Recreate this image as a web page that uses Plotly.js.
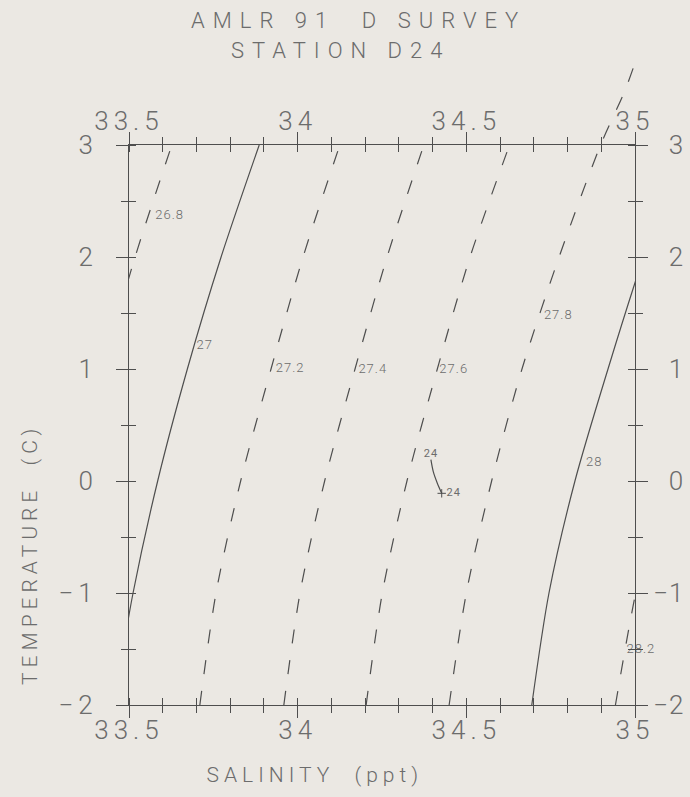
<!DOCTYPE html>
<html><head><meta charset="utf-8">
<script src="https://cdn.plot.ly/plotly-3.0.1.min.js"></script>
<style>
html,body{margin:0;padding:0;background:#ebe8e3;}
#chart{width:690px;height:797px;}
.xtick text,.x2tick text,.ytick text{letter-spacing:5px;}
.y2tick text{letter-spacing:1px;}
.annotation-text{letter-spacing:8px;}
g.annotation[data-index="2"] text, g.annotation[data-index="3"] text{letter-spacing:5px;}
.textpoint text{letter-spacing:1px;}
</style></head><body><div id="chart"></div>
<script>
// ---- data ----
const tempLevels = [-2, -1, 0, 1, 2, 3];
const sigma268 = [33.212, 33.260, 33.333, 33.423, 33.518, 33.627];
const sigma270 = [33.455, 33.512, 33.585, 33.673, 33.773, 33.886];
const sigma272 = [33.710, 33.758, 33.831, 33.921, 34.016, 34.125];
const sigma274 = [33.959, 34.007, 34.080, 34.170, 34.265, 34.374];
const sigma276 = [34.203, 34.251, 34.324, 34.414, 34.511, 34.628];
const tempLevels278 = [-2, -1, 0, 1, 2, 3, 3.5, 4];
const sigma278 = [34.449, 34.500, 34.575, 34.665, 34.775, 34.898, 34.972, 35.030];
const sigma280 = [34.694, 34.745, 34.822, 34.920, 35.025, 35.140];
const sigma282 = [34.942, 35.002, 35.080, 35.180, 35.290, 35.410];
const isoNames = ['26.8', '27', '27.2', '27.4', '27.6', '27.8', '28', '28.2'];
const isoSolid = [false, true, false, false, false, false, true, false];
const labelSal  = [33.578, 33.700, 33.935, 34.180, 34.420, 34.730, 34.855, 34.975];
const labelTemp = [2.366, 1.205, 1.006, 0.990, 0.990, 1.473, 0.161, -1.510];
const stationSal  = [34.395, 34.402, 34.414, 34.427];
const stationTemp = [0.190, 0.083, -0.020, -0.110];
const stationName = '24';
const titleLines = ['AMLR 91\u00a0 D SURVEY', 'STATION D24'];
const xTitle = 'SALINITY\u00a0 (ppt)';
const yTitle = 'TEMPERATURE\u00a0 (C)';
const salTicks = [33.5, 34, 34.5, 35];
const tempTicks = [3, 2, 1, 0, -1, -2];

// ---- styling ----
const LINE = '#4e4e4e', TXT = '#6c6c6c', BG = '#ebe8e3';
const FONT = 'Roboto, "Noto Sans", "DejaVu Sans", sans-serif';
const DASH = '14px,17px';

const isoSeries = [
  [sigma268, tempLevels], [sigma270, tempLevels], [sigma272, tempLevels],
  [sigma274, tempLevels], [sigma276, tempLevels], [sigma278, tempLevels278],
  [sigma280, tempLevels], [sigma282, tempLevels]
];

const traces = [];
isoSeries.forEach((p, i) => {
  traces.push({type: 'scatter', mode: 'lines', x: p[0], y: p[1], xaxis: 'x', yaxis: 'y',
    line: {color: LINE, width: 1.2, dash: isoSolid[i] ? 'solid' : DASH, shape: 'spline', smoothing: 0.8},
    hoverinfo: 'skip', showlegend: false});
});
// continuation of the 27.8 line above the frame (as on the reference plot)
traces.push({type: 'scatter', mode: 'lines', x: sigma278, y: tempLevels278, xaxis: 'x5', yaxis: 'y5',
  line: {color: LINE, width: 1.2, dash: DASH, shape: 'spline', smoothing: 0.8}, hoverinfo: 'skip', showlegend: false});
// isopycnal labels
traces.push({type: 'scatter', mode: 'text', x: labelSal, y: labelTemp, text: isoNames,
  textposition: 'middle right', textfont: {family: FONT, size: 13, color: TXT, weight: 300},
  cliponaxis: false, hoverinfo: 'skip', showlegend: false});
// station profile
traces.push({type: 'scatter', mode: 'lines', x: stationSal, y: stationTemp,
  line: {color: LINE, width: 1.2, shape: 'spline', smoothing: 0.8}, hoverinfo: 'skip', showlegend: false});
traces.push({type: 'scatter', mode: 'text', x: [stationSal[0]], y: [stationTemp[0]], text: [stationName],
  textposition: 'top center', textfont: {family: FONT, size: 11, color: TXT},
  hoverinfo: 'skip', showlegend: false});
const nS = stationSal.length - 1;
traces.push({type: 'scatter', mode: 'markers+text', x: [stationSal[nS]], y: [stationTemp[nS]], text: [stationName],
  textposition: 'middle right', textfont: {family: FONT, size: 11, color: TXT},
  marker: {symbol: 'cross-thin-open', size: 6, color: LINE, line: {color: LINE, width: 1}},
  hoverinfo: 'skip', showlegend: false});
// empty traces so that the extra axes are created
[['x2','y2'],['x3','y3'],['x4','y4']].forEach(a => traces.push({type:'scatter', x:[], y:[], xaxis:a[0], yaxis:a[1], showlegend:false, hoverinfo:'skip'}));

const minus = v => v < 0 ? '\u2212' + (-v) : String(v);
const tickFont = {family: FONT, size: 26, color: TXT, weight: 300};
const common = {showgrid: false, zeroline: false, showline: true, linecolor: LINE, linewidth: 1,
  tickcolor: LINE, tickwidth: 1, fixedrange: true};
const SR = [33.5, 35], TR = [-2, 3];

const W = 690, H = 797, L = 129, R = 635, TOP = 40, PT = 145, PB = 705;
const plotH = PB - TOP;
const mainTop = (PB - PT) / plotH;
const extTop = 3 + (PT - TOP) / ((PB - PT) / 5);
const px = v => (v - L) / (R - L);
const py = v => (PB - v) / plotH;
const minorX = dir => ({tickmode: 'linear', tick0: 33.5, dtick: 0.1, ticks: dir, ticklen: 7, tickcolor: LINE, tickwidth: 1});
const minorY = dir => ({tickmode: 'linear', tick0: -2, dtick: 0.5, ticks: dir, ticklen: 7, tickcolor: LINE, tickwidth: 1});

const layout = {
  width: W, height: H, paper_bgcolor: BG, plot_bgcolor: BG,
  margin: {l: L, r: W - R, t: TOP, b: H - PB, pad: 0},
  showlegend: false,
  xaxis: Object.assign({}, common, {range: SR, domain: [0, 1], anchor: 'y', side: 'bottom',
    tickmode: 'array', tickvals: salTicks, ticktext: salTicks.map(String),
    ticks: 'outside', ticklen: 12, tickfont: tickFont, ticklabelstandoff: -10, minor: minorX('outside')}),
  xaxis2: Object.assign({}, common, {range: SR, overlaying: 'x', anchor: 'y', side: 'top',
    tickmode: 'array', tickvals: salTicks, ticktext: salTicks.map(String),
    ticks: 'outside', ticklen: 12, tickfont: tickFont, ticklabelstandoff: -8, minor: minorX('outside')}),
  xaxis3: Object.assign({}, common, {range: SR, overlaying: 'x', anchor: 'y', side: 'bottom',
    tickmode: 'array', tickvals: salTicks, ticks: '', showticklabels: false, minor: minorX('inside')}),
  xaxis4: Object.assign({}, common, {range: SR, overlaying: 'x', anchor: 'y', side: 'top',
    tickmode: 'array', tickvals: salTicks, ticks: '', showticklabels: false, minor: minorX('inside')}),
  yaxis: Object.assign({}, common, {range: TR, domain: [0, mainTop], anchor: 'x', side: 'left',
    tickmode: 'array', tickvals: tempTicks, ticktext: tempTicks.map(minus),
    ticks: 'outside', ticklen: 12, tickfont: tickFont, ticklabelstandoff: 13, minor: minorY('outside')}),
  yaxis2: Object.assign({}, common, {range: TR, overlaying: 'y', anchor: 'x', side: 'right',
    tickmode: 'array', tickvals: tempTicks, ticktext: tempTicks.map(v => v < 0 ? minus(v) : '\u2007' + v),
    ticks: 'outside', ticklen: 12, tickfont: tickFont, ticklabelstandoff: 0, minor: minorY('outside')}),
  yaxis3: Object.assign({}, common, {range: TR, overlaying: 'y', anchor: 'x', side: 'left',
    tickmode: 'array', tickvals: tempTicks, ticks: '', showticklabels: false, minor: minorY('inside')}),
  yaxis4: Object.assign({}, common, {range: TR, overlaying: 'y', anchor: 'x', side: 'right',
    tickmode: 'array', tickvals: tempTicks, ticks: '', showticklabels: false, minor: minorY('inside')}),
  xaxis5: {range: SR, domain: [0, 1], anchor: 'y5', visible: false, fixedrange: true},
  yaxis5: {range: [3, extTop], domain: [mainTop, 1], anchor: 'x5', visible: false, fixedrange: true},
  annotations: [
    {text: titleLines[0], xref: 'paper', yref: 'paper', x: px(358), y: py(20), xanchor: 'center', yanchor: 'middle',
     showarrow: false, font: {family: FONT, size: 22, color: TXT, weight: 300}},
    {text: titleLines[1], xref: 'paper', yref: 'paper', x: px(340), y: py(51), xanchor: 'center', yanchor: 'middle',
     showarrow: false, font: {family: FONT, size: 22, color: TXT, weight: 300}},
    {text: xTitle, xref: 'paper', yref: 'paper', x: px(315), y: py(775), xanchor: 'center', yanchor: 'middle',
     showarrow: false, font: {family: FONT, size: 21, color: TXT, weight: 300}},
    {text: yTitle, xref: 'paper', yref: 'paper', x: px(30), y: py(555), xanchor: 'center', yanchor: 'middle',
     textangle: -90, showarrow: false, font: {family: FONT, size: 21, color: TXT, weight: 300}}
  ]
};

Plotly.newPlot('chart', traces, layout, {staticPlot: true, displayModeBar: false});
</script></body></html>
